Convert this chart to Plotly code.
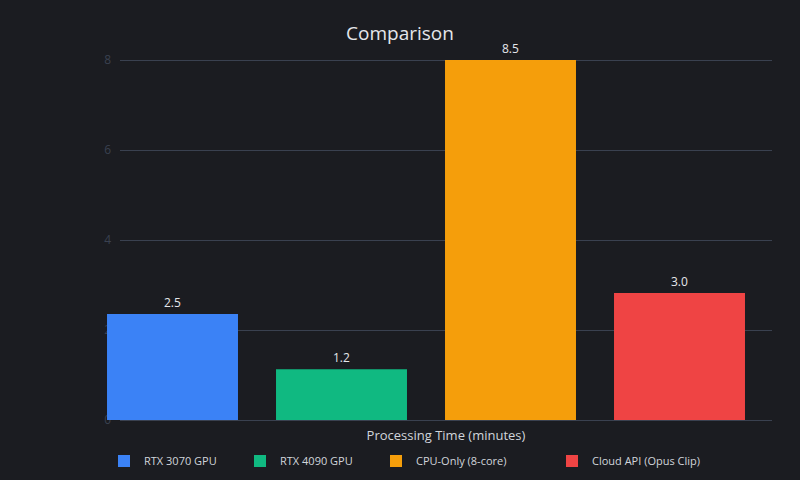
import plotly.graph_objects as go

categories = ["RTX 3070 GPU", "RTX 4090 GPU", "CPU-Only (8-core)", "Cloud API (Opus Clip)"]
values = [2.5, 1.2, 8.5, 3.0]
labels = ["2.5", "1.2", "8.5", "3.0"]
colors = ["#3b82f6", "#10b981", "#f59e0b", "#ef4444"]
grid_ticks = [0, 2, 4, 6, 8]

W, H = 800, 480
PAD = 5
ML, MR, MT, MB = 80, 20, 60 - PAD, 60 - PAD
PW = W - ML - MR
PH = H - MT - MB
TOP, BOT = 60, 420          # pixel rows of the data area
UNIT = (BOT - TOP) / 8.0    # px per grid unit

def px(x):
    return (x - ML) / PW

def py(y):
    return (MT + PH - y) / PH

BG = "#1b1c21"
FONT = "Open Sans, Noto Sans, sans-serif"

fig = go.Figure()

# invisible trace to hold the grid subplot
fig.add_trace(go.Scatter(x=[0], y=[0], mode="markers", marker=dict(opacity=0),
                         showlegend=False, hoverinfo="skip", xaxis="x", yaxis="y"))

legend_left = [122, 258, 394, 570]
for i, (c, v, l, col) in enumerate(zip(categories, values, labels, colors)):
    lg = "legend" if i == 0 else f"legend{i+1}"
    fig.add_trace(go.Bar(
        x=[c], y=[v], name=c, marker=dict(color=col, line=dict(width=0)),
        text=[l], textposition="outside", cliponaxis=False,
        textfont=dict(color="#e5e7eb", size=12, family=FONT),
        xaxis="x2", yaxis="y2", legend=lg, hoverinfo="skip",
    ))

layout_legends = {}
for i, left in enumerate(legend_left):
    key = "legend" if i == 0 else f"legend{i+1}"
    layout_legends[key] = dict(
        x=px(left - 18), xanchor="left", y=py(461), yanchor="middle",
        orientation="h", bgcolor="rgba(0,0,0,0)", borderwidth=0,
        font=dict(color="#d1d5db", size=11, family=FONT),
        itemclick=False, itemdoubleclick=False,
    )

fig.update_layout(
    width=W, height=H,
    margin=dict(l=ML, r=MR, t=MT, b=MB, autoexpand=False),
    paper_bgcolor=BG, plot_bgcolor="rgba(0,0,0,0)",
    font=dict(family=FONT, color="#d1d5db"),
    title=dict(text="Comparison", x=0.5, xanchor="center", xref="container",
               y=1 - 33 / H, yref="container", yanchor="middle",
               font=dict(size=19, color="#e5e7eb", family=FONT)),
    barmode="overlay", bargap=0.225,
    showlegend=True,
    xaxis=dict(domain=[px(120), px(772)], range=[0, 1], showgrid=False, zeroline=False,
               showticklabels=False, ticks="", showline=False,
               title=dict(text="Processing Time (minutes)", standoff=5,
                          font=dict(size=13, color="#d1d5db", family=FONT))),
    yaxis=dict(domain=[0, 1], range=[-PAD / UNIT, 8 + PAD / UNIT], tickvals=grid_ticks,
               showgrid=True, gridcolor="#3a4150", gridwidth=1, zeroline=False,
               showline=False, ticks="", ticklabelstandoff=8,
               tickfont=dict(size=12, color="#3a4150", family=FONT), anchor="x"),
    xaxis2=dict(domain=[px(88), px(764)], range=[-0.5, 3.5], showgrid=False,
                zeroline=False, showticklabels=False, ticks="", showline=False,
                anchor="y2", categoryorder="array", categoryarray=categories),
    yaxis2=dict(domain=[py(BOT), py(TOP)], range=[0, 8.5], showgrid=False, zeroline=False,
                showticklabels=False, ticks="", showline=False, anchor="x2"),
    **layout_legends,
)

fig.write_html("out.html")
